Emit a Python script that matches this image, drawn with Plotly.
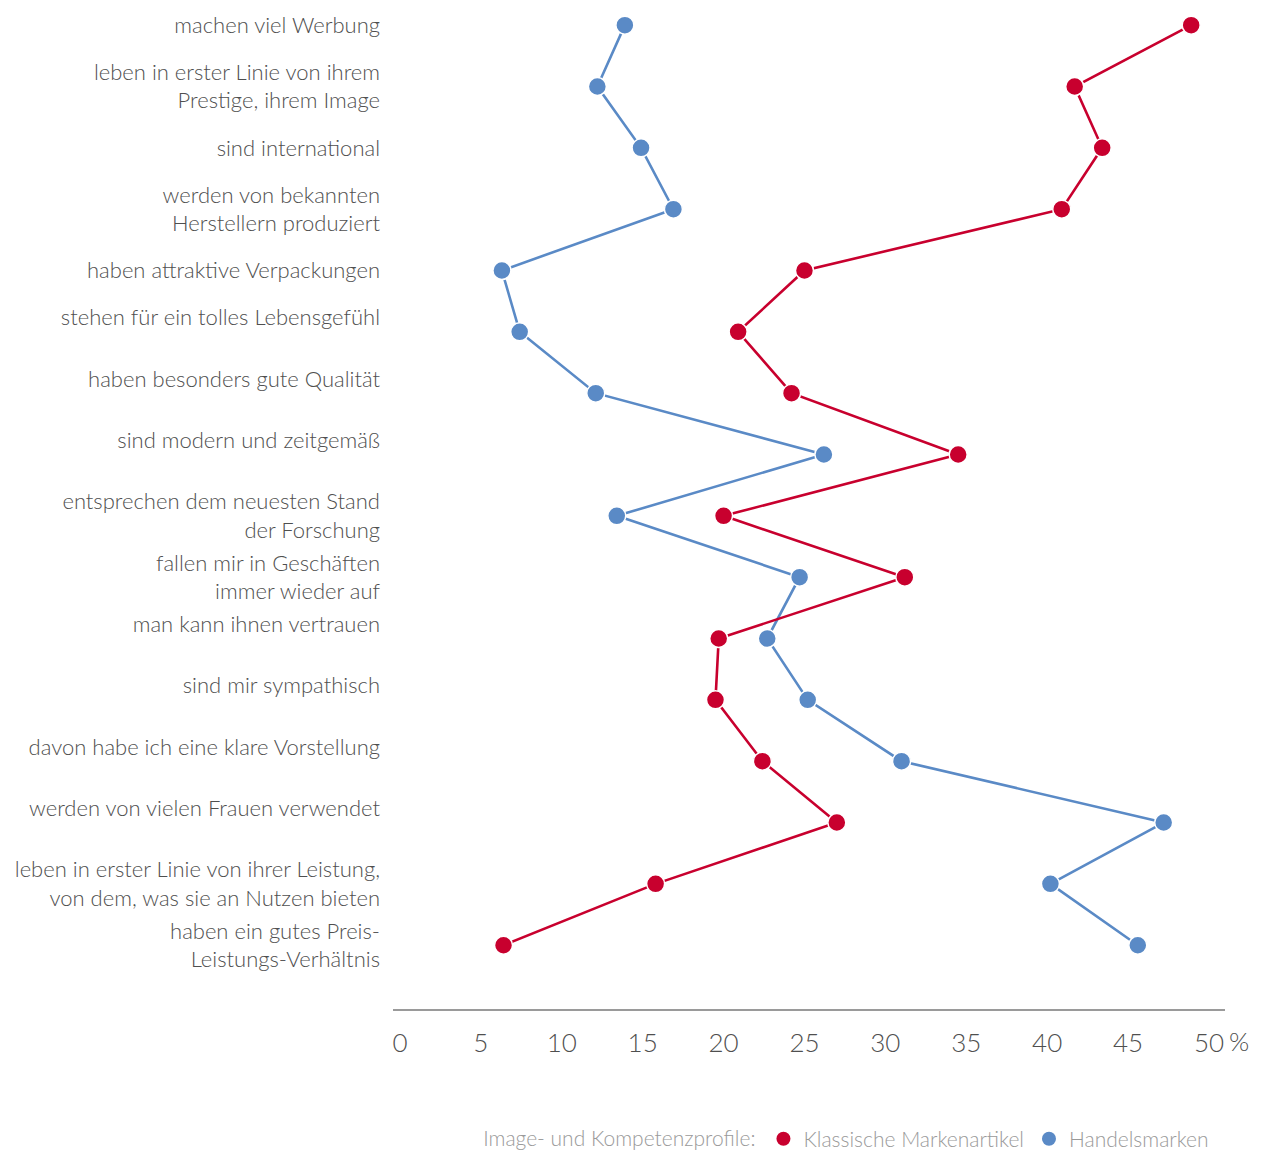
import plotly.graph_objects as go

categories = [
    "machen viel Werbung",
    "leben in erster Linie von ihrem<br>Prestige, ihrem Image",
    "sind international",
    "werden von bekannten<br>Herstellern produziert",
    "haben attraktive Verpackungen",
    "stehen für ein tolles Lebensgefühl<br>\u00a0",
    "haben besonders gute Qualität<br>\u00a0",
    "sind modern und zeitgemäß<br>\u00a0",
    "entsprechen dem neuesten Stand<br>der Forschung",
    "fallen mir in Geschäften<br>immer wieder auf",
    "man kann ihnen vertrauen<br>\u00a0",
    "sind mir sympathisch<br>\u00a0",
    "davon habe ich eine klare Vorstellung<br>\u00a0",
    "werden von vielen Frauen verwendet<br>\u00a0",
    "leben in erster Linie von ihrer Leistung,<br>von dem, was sie an Nutzen bieten",
    "haben ein gutes Preis-<br>Leistungs-Verhältnis",
]

klassische = [48.9, 41.7, 43.4, 40.9, 25.0, 20.9, 24.2, 34.5, 20.0, 31.2, 19.7, 19.5, 22.4, 27.0, 15.8, 6.4]
handel = [13.9, 12.2, 14.9, 16.9, 6.3, 7.4, 12.1, 26.2, 13.4, 24.7, 22.7, 25.2, 31.0, 47.2, 40.2, 45.6]

x_ticks = [0, 5, 10, 15, 20, 25, 30, 35, 40, 45, 50]
x_ticktext = ["0", "5", "10", "15", "20", "25", "30", "35", "40", "45", "50"]

RED = "#C8002E"
BLUE = "#5A8AC6"
TEXT = "#4f4f4f"
FONT = "Lato"

idx = list(range(len(categories)))

fig = go.Figure()
fig.add_trace(go.Scatter(
    x=handel, y=idx, mode="lines+markers", showlegend=False,
    line=dict(color=BLUE, width=2.6),
    marker=dict(color=BLUE, size=18, line=dict(color="white", width=1.5)),
))
fig.add_trace(go.Scatter(
    x=klassische, y=idx, mode="lines+markers", showlegend=False,
    line=dict(color=RED, width=2.6),
    marker=dict(color=RED, size=18, line=dict(color="white", width=1.5)),
))
# legend entries (markers only)
fig.add_trace(go.Scatter(
    x=[None], y=[None], mode="markers", name="Klassische Markenartikel",
    marker=dict(color=RED, size=14),
))
fig.add_trace(go.Scatter(
    x=[None], y=[None], mode="markers", name="Handelsmarken",
    marker=dict(color=BLUE, size=14),
))

fig.update_layout(
    width=1281, height=1153,
    margin=dict(l=393, r=56, t=0, b=144, autoexpand=False),
    paper_bgcolor="white", plot_bgcolor="white",
    font=dict(family=FONT, color=TEXT, size=22, weight=300),
    xaxis=dict(
        range=[-0.43, 50.99], tickvals=x_ticks, ticktext=x_ticktext,
        showgrid=False, zeroline=False, showline=True, linecolor="#9a9a9a", linewidth=1.5,
        ticks="", ticklabelstandoff=10,
        tickfont=dict(family=FONT, size=26, color=TEXT, weight=300),
    ),
    yaxis=dict(
        range=[16.04, -0.41], tickvals=idx, ticktext=categories,
        showgrid=False, zeroline=False, showline=False, ticks="",
        ticklabelstandoff=12,
        tickfont=dict(family=FONT, size=22, color=TEXT, weight=300),
    ),
    legend=dict(
        orientation="h", x=0.987, xanchor="right", y=-0.129, yanchor="middle",
        yref="paper",
        title=dict(text="Image- und Kompetenzprofile:", side="left",
                   font=dict(family=FONT, size=21, color="#9a9a9a", weight=300)),
        font=dict(family=FONT, size=21, color="#9a9a9a", weight=300),
        itemwidth=30,
    ),
    annotations=[dict(
        x=50, y=0, xref="x", yref="paper", text="%", showarrow=False,
        xanchor="left", yanchor="top", xshift=18, yshift=-14,
        font=dict(family=FONT, size=26, color=TEXT, weight=300),
    )],
)

fig.write_html("out.html")
